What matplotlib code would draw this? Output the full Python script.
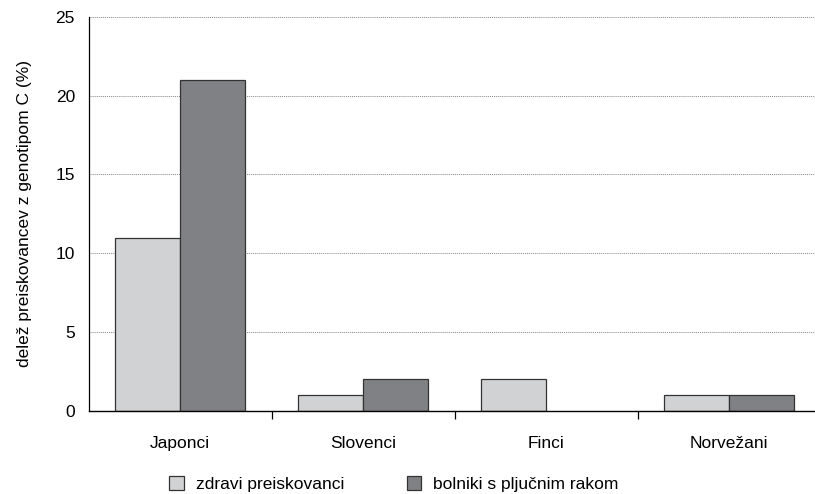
import numpy as np
import matplotlib
matplotlib.use('Agg')
import matplotlib.pyplot as plt

plt.rcParams['font.family'] = ['Liberation Sans', 'DejaVu Sans']

categories = ['Japonci', 'Slovenci', 'Finci', 'Norvežani']
zdravi = [11, 1, 2, 1]
bolniki = [21, 2, 0, 1]
series_names = ['zdravi preiskovanci', 'bolniki s pljučnim rakom']

fs = 12.5

fig = plt.figure(figsize=(8.15, 4.94), dpi=100)
ax = fig.add_axes([0.109, 0.168, 0.891, 0.798])

x = np.arange(len(categories))
w = 0.355
# no outline for zero-height bars
ax.bar(x - w / 2, zdravi, w, color='#d1d2d4', edgecolor='#333333',
       linewidth=[0.9 if v else 0 for v in zdravi], label=series_names[0], zorder=3)
ax.bar(x + w / 2, bolniki, w, color='#808184', edgecolor='#333333',
       linewidth=[0.9 if v else 0 for v in bolniki], label=series_names[1], zorder=3)

ax.set_xlim(-0.5, 3.47)
ax.set_ylim(0, 25)
ax.set_yticks([0, 5, 10, 15, 20, 25])
ax.yaxis.grid(True, linestyle=(0, (1, 1)), color='#888888', linewidth=0.7, zorder=0)

ax.set_xticks(x)
ax.set_xticklabels(categories, fontsize=fs)
ax.tick_params(axis='x', length=0, pad=18)
ax.set_xticks([0.5, 1.5, 2.5], minor=True)
ax.tick_params(axis='x', which='minor', length=6, width=0.9, direction='out')
ax.tick_params(axis='y', length=0, pad=10, labelsize=fs)

for s in ['top', 'right']:
    ax.spines[s].set_visible(False)
ax.spines['left'].set_linewidth(0.9)
ax.spines['bottom'].set_linewidth(1.0)
ax.spines['bottom'].set_zorder(4)

ax.set_ylabel('delež preiskovancev z genotipom C (%)', fontsize=fs, labelpad=17)

leg = ax.legend(loc='center', bbox_to_anchor=(0.42, -0.186), ncol=2, frameon=False,
                fontsize=fs, handlelength=0.85, handleheight=0.85, columnspacing=3.6,
                handletextpad=0.7, borderpad=0.2)
for h in leg.legend_handles:
    h.set_linewidth(0.9)

plt.savefig('out.png', dpi=100)
